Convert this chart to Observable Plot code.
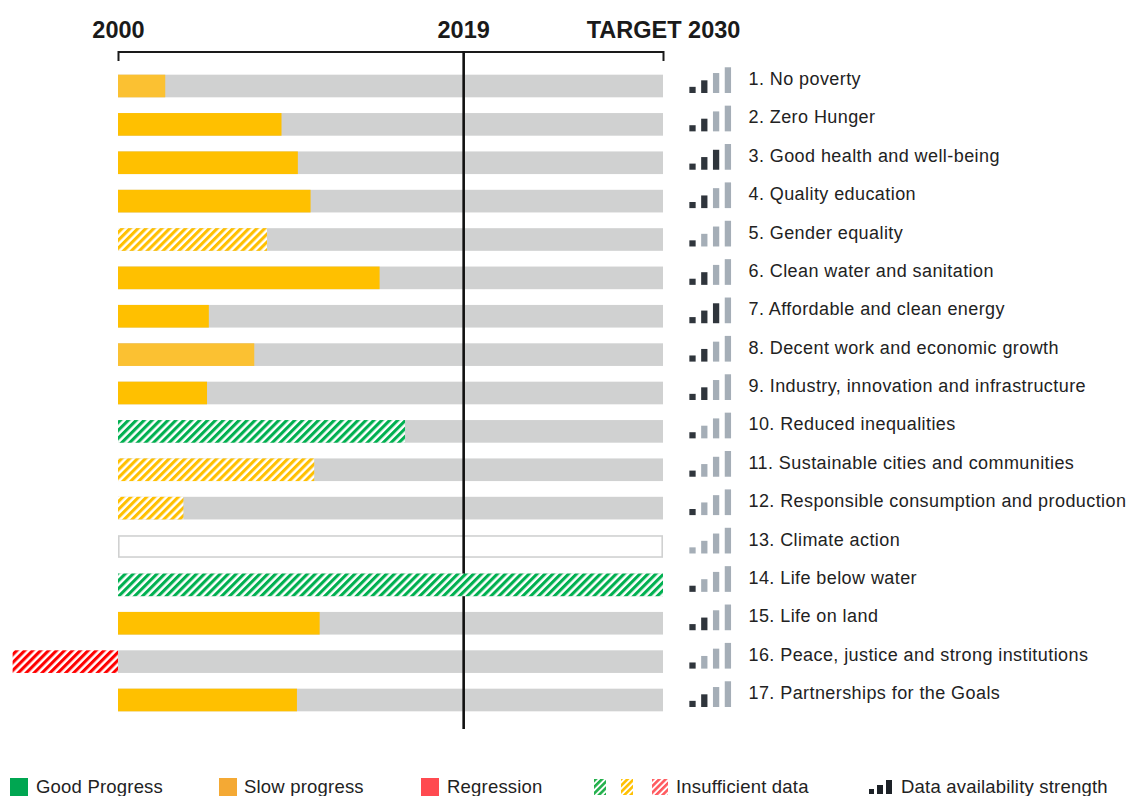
<!DOCTYPE html>
<html>
<head>
<meta charset="utf-8">
<script src="https://cdn.jsdelivr.net/npm/d3@7"></script>
<script src="https://cdn.jsdelivr.net/npm/@observablehq/plot@0.6"></script>
<style>
  html, body { margin: 0; padding: 0; background: #fff; }
  body { width: 1129px; height: 796px; overflow: hidden; font-family: "Liberation Sans", Arial, Helvetica, sans-serif; }
  #chart { position: relative; width: 1129px; }
  #legend { position: relative; width: 1129px; height: 20px; margin-top: 37px; color: #222; font-size: 18.5px; }
  #legend .sw { width: 18px; height: 18px; display: inline-block; }
  #legend .txt { position: absolute; top: 0px; line-height: 20px; white-space: nowrap; letter-spacing: 0.2px; }
</style>
</head>
<body>
<svg width="0" height="0" style="position:absolute">
  <defs>
    <pattern id="hatch-slow" patternUnits="userSpaceOnUse" width="5.6" height="5.6" patternTransform="rotate(45)">
      <rect width="5.6" height="5.6" fill="#fff"/><rect width="3.1" height="5.6" fill="#ffc000"/>
    </pattern>
    <pattern id="hatch-good" patternUnits="userSpaceOnUse" width="5.6" height="5.6" patternTransform="rotate(45)">
      <rect width="5.6" height="5.6" fill="#fff"/><rect width="3.1" height="5.6" fill="#00b050"/>
    </pattern>
    <pattern id="hatch-regression" patternUnits="userSpaceOnUse" width="5.6" height="5.6" patternTransform="rotate(45)">
      <rect width="5.6" height="5.6" fill="#fff"/><rect width="3.1" height="5.6" fill="#ff0000"/>
    </pattern>
    <pattern id="hatch-good-l" patternUnits="userSpaceOnUse" width="4.5" height="4.5" patternTransform="rotate(45)">
      <rect width="4.5" height="4.5" fill="#fff"/><rect width="2.6" height="4.5" fill="#22b04b"/>
    </pattern>
    <pattern id="hatch-slow-l" patternUnits="userSpaceOnUse" width="4.5" height="4.5" patternTransform="rotate(45)">
      <rect width="4.5" height="4.5" fill="#fff"/><rect width="2.6" height="4.5" fill="#ffc000"/>
    </pattern>
    <pattern id="hatch-reg-l" patternUnits="userSpaceOnUse" width="4.5" height="4.5" patternTransform="rotate(45)">
      <rect width="4.5" height="4.5" fill="#fff"/><rect width="2.6" height="4.5" fill="#ff5a5f"/>
    </pattern>
  </defs>
</svg>
<div id="chart"></div>
<div id="legend"></div>
<script>
// ---------------- DATA ----------------
const goalLabels = [
  "1. No poverty",
  "2. Zero Hunger",
  "3. Good health and well-being",
  "4. Quality education",
  "5. Gender equality",
  "6. Clean water and sanitation",
  "7. Affordable and clean energy",
  "8. Decent work and economic growth",
  "9. Industry, innovation and infrastructure",
  "10. Reduced inequalities",
  "11. Sustainable cities and communities",
  "12. Responsible consumption and production",
  "13. Climate action",
  "14. Life below water",
  "15. Life on land",
  "16. Peace, justice and strong institutions",
  "17. Partnerships for the Goals"
];
// year reached by the progress bar (2000 = start, 2030 = target)
const progressEnd = [2002.6, 2009.0, 2009.9, 2010.6, 2008.2, 2014.4, 2005.0, 2007.5, 2004.9,
                     2015.8, 2010.8, 2003.6, null, 2030, 2011.1, 1994.2, 2009.85];
const progressStatus = ["slow","slow","slow","slow","slow","slow","slow","slow","slow",
                        "good","slow","slow","none","good","slow","regression","slow"];
const insufficientData = [false,false,false,false,true,false,false,false,false,
                          true,true,true,false,true,false,true,false];
const dataStrength = [2,2,3,2,1,2,3,2,2,1,1,1,0,1,2,1,2];
const baseYear = 2000, currentYear = 2019, targetYear = 2030;
const headerTicks = [
  {year: 2000, label: "2000"},
  {year: 2019, label: "2019"},
  {year: 2030, label: "TARGET 2030"}
];
const legendItems = ["Good Progress", "Slow progress", "Regression", "Insufficient data", "Data availability strength"];

// ---------------- STYLE ----------------
const solidColor = {good: "#00b050", slow: "#ffc000", regression: "#ff0000"};
const paleGoals = new Set([1, 8]);
const grey = "#d0d1d1";
const dark = "#2f353c", light = "#a5aeb7";
const iconHeights = [0.16, 0.33, 0.52, 0.67];   // in row units
const iconDx = [29, 40.8, 52.6, 64.4];
const iconBase = 0.182;
const half = 0.295;

const goals = goalLabels.map((label, i) => ({
  goal: i + 1, label, end: progressEnd[i], status: progressStatus[i],
  hatched: insufficientData[i], strength: dataStrength[i]
}));

function barFill(d) {
  if (d.hatched) return `url(#hatch-${d.status})`;
  if (d.status === "slow" && paleGoals.has(d.goal)) return "#fbc132";
  return solidColor[d.status];
}

const W = 1129, H = 740;
const iconMarks = iconHeights.map((h, s) => Plot.ruleX(goals, {
  x: () => targetYear,
  y1: d => d.goal + iconBase,
  y2: d => d.goal + iconBase - h,
  dx: iconDx[s],
  stroke: d => s < d.strength ? dark : light,
  strokeWidth: 6.3
}));

const chart = Plot.plot({
  width: W, height: H,
  marginTop: 51, marginBottom: 11, marginLeft: 118, marginRight: W - 663,
  x: {domain: [baseYear, targetYear], axis: null},
  y: {domain: [1, 17], range: [86, 700], axis: null},
  color: {type: "identity"},
  style: {fontFamily: '"Liberation Sans", Arial, Helvetica, sans-serif', background: "#fff", overflow: "visible"},
  marks: [
    // background tracks
    Plot.rect(goals.filter(d => d.status !== "none"), {
      x1: () => baseYear, x2: () => targetYear,
      y1: d => d.goal - half, y2: d => d.goal + half, fill: grey
    }),
    Plot.rect(goals.filter(d => d.status === "none"), {
      x1: () => baseYear, x2: () => targetYear,
      y1: d => d.goal - half, y2: d => d.goal + half,
      fill: "#fff", stroke: grey, strokeWidth: 1.6, inset: 0.8
    }),
    // top bracket
    Plot.rect([0], {x1: () => baseYear, x2: () => targetYear, fill: "#1a1a1a", insetBottom: 676}),
    Plot.ruleX([baseYear, targetYear], {stroke: "#1a1a1a", strokeWidth: 2, insetBottom: 668}),
    // current year line
    Plot.ruleX([currentYear], {stroke: "#111", strokeWidth: 2.6}),
    // progress bars
    Plot.rect(goals.filter(d => d.end != null), {
      x1: () => baseYear, x2: "end",
      y1: d => d.goal - half, y2: d => d.goal + half,
      fill: barFill
    }),
    // header labels
    Plot.text(headerTicks, {
      x: "year", text: "label", frameAnchor: "top", dy: -14, lineAnchor: "bottom",
      fontWeight: "bold", fontSize: 23.5, fill: "#1a1a1a", textAnchor: "middle"
    }),
    // data strength icons
    ...iconMarks,
    // goal labels
    Plot.text(goals, {
      x: () => targetYear, y: "goal", text: "label", dx: 85, dy: -1.5,
      textAnchor: "start", lineAnchor: "bottom", fontSize: 18, fill: "#222",
      style: "letter-spacing:0.42px"
    })
  ]
});
document.getElementById("chart").appendChild(chart);
chart.querySelectorAll("text").forEach(t => {
  if (goalLabels.includes(t.textContent)) t.setAttribute("letter-spacing", "0.42");
});

// ---------------- LEGEND ----------------
const lg = document.getElementById("legend");
function addSwatch(left, fill) {
  const s = document.createElement("span");
  s.className = "sw"; s.style.position = "absolute"; s.style.left = left + "px"; s.style.top = "1px";
  s.style.background = fill; lg.appendChild(s);
}
function addText(left, t) {
  const s = document.createElement("span");
  s.className = "txt"; s.style.left = left + "px"; s.textContent = t; lg.appendChild(s);
}
addSwatch(10, "#00a651"); addText(36, legendItems[0]);
addSwatch(219, "#f4a934"); addText(244, legendItems[1]);
addSwatch(421, "#ff4a50"); addText(447, legendItems[2]);
// hatched swatches
const hs = document.createElementNS("http://www.w3.org/2000/svg", "svg");
hs.setAttribute("width", 80); hs.setAttribute("height", 20);
hs.style.position = "absolute"; hs.style.left = "594px"; hs.style.top = "2px";
[["hatch-good-l", 0, 12], ["hatch-slow-l", 27, 12], ["hatch-reg-l", 58, 16]].forEach(([id, x, w]) => {
  const r = document.createElementNS("http://www.w3.org/2000/svg", "rect");
  r.setAttribute("x", x); r.setAttribute("y", 0); r.setAttribute("width", w); r.setAttribute("height", 16);
  r.setAttribute("fill", `url(#${id})`); hs.appendChild(r);
});
lg.appendChild(hs);
addText(676, legendItems[3]);
// data strength icon
const ds = document.createElementNS("http://www.w3.org/2000/svg", "svg");
ds.setAttribute("width", 26); ds.setAttribute("height", 20);
ds.style.position = "absolute"; ds.style.left = "869px"; ds.style.top = "2px";
[[0, 5, 5], [8, 6, 9], [17, 6, 14]].forEach(([x, w, h]) => {
  const r = document.createElementNS("http://www.w3.org/2000/svg", "rect");
  r.setAttribute("x", x); r.setAttribute("y", 15 - h); r.setAttribute("width", w); r.setAttribute("height", h);
  r.setAttribute("fill", "#1d2228"); ds.appendChild(r);
});
lg.appendChild(ds);
addText(901, legendItems[4]);
</script>
</body>
</html>
